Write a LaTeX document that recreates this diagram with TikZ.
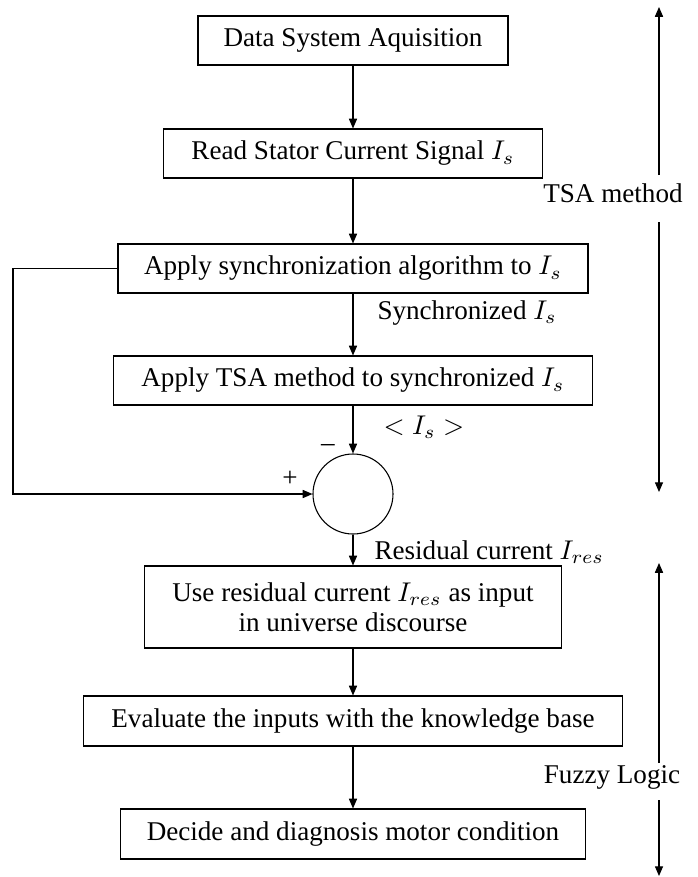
\documentclass[tikz,border=0pt]{standalone}
\usepackage{fontspec}
\setmainfont{Liberation Serif}
\usetikzlibrary{arrows.meta}
\newcommand{\pxu}{0.369pt}
\begin{document}
\begin{tikzpicture}[x=0.369pt,y=-0.369pt,
  box/.style={draw, inner sep=0pt, align=center, font=\fontsize{10}{11}\selectfont},
  conn/.style={-{Triangle[length=3.6pt,width=3pt]}},
  lbl/.style={inner sep=0pt, font=\fontsize{10}{11}\selectfont}]
\useasboundingbox (0,0) rectangle (698,877);
\node[box, minimum width=310*\pxu, minimum height=49*\pxu] (b1) at (353,40.5) {Data System Aquisition};
\node[box, minimum width=379*\pxu, minimum height=49*\pxu] (b2) at (353,153.5) {Read Stator Current Signal $I_s$};
\node[box, minimum width=470*\pxu, minimum height=49*\pxu] (b3) at (353,268.5) {Apply synchronization algorithm to $I_s$};
\node[box, minimum width=479*\pxu, minimum height=49*\pxu] (b4) at (353,380.5) {Apply TSA method to synchronized $I_s$};
\node[draw, circle, minimum size=80*\pxu, inner sep=0pt] (c) at (353,494) {};
\node[box, minimum width=417*\pxu, minimum height=82*\pxu] (b5) at (353,607) {Use residual current $I_{res}$ as input\\in universe discourse};
\node[box, minimum width=539*\pxu, minimum height=50*\pxu] (b6) at (353,721) {Evaluate the inputs with the knowledge base};
\node[box, minimum width=465*\pxu, minimum height=50*\pxu] (b7) at (353,834) {Decide and diagnosis motor condition};

\draw[conn] (b1) -- (b2);
\draw[conn] (b2) -- (b3);
\draw[conn] (b3) -- (b4);
\draw[conn] (b4) -- (c.north);
\draw[conn] (c.south) -- (b5);
\draw[conn] (b5) -- (b6);
\draw[conn] (b6) -- (b7);

\coordinate (fl) at (13,268.5);
\draw[conn] (b3.west) -- (fl) |- (c.west);

\node[lbl, anchor=west] (ls) at (377,313) {Synchronized $I_s$};
\node[lbl, anchor=west] (lm) at (383,427) {$< I_s >$};
\node[lbl, anchor=west] (lr) at (374,552) {Residual current $I_{res}$};
\node[lbl] (plus) at (290,479) {+};
\node[lbl] (minus) at (328,448) {\textendash};

\node[lbl] (tsa) at (613,193) {TSA method};
\node[lbl] (fz) at (612,777) {Fuzzy Logic};

\coordinate (t0) at (659,7);
\coordinate (t1) at (659,175);
\coordinate (t2) at (659,222);
\coordinate (t3) at (659,492);
\coordinate (f0) at (659,563);
\coordinate (f1) at (659,763);
\coordinate (f2) at (659,800);
\coordinate (f3) at (659,876);
\draw[conn] (t1) -- (t0);
\draw[conn] (t2) -- (t3);
\draw[conn] (f1) -- (f0);
\draw[conn] (f2) -- (f3);
\end{tikzpicture}
\end{document}
